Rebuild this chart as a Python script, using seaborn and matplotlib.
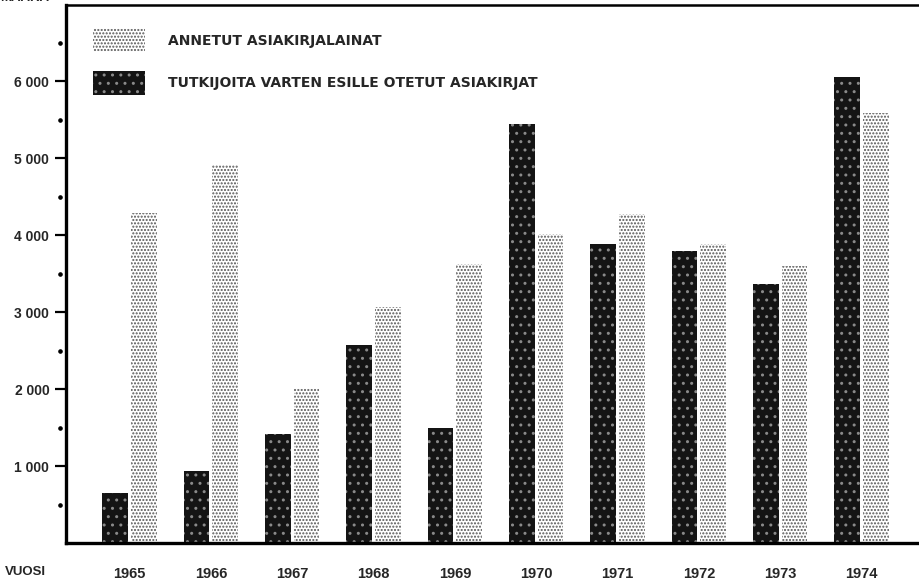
import numpy as np
import pandas as pd
import matplotlib; matplotlib.use("Agg")
import matplotlib.pyplot as plt
import seaborn as sns
from matplotlib.patches import Patch

sns.set_theme(style="white")
plt.rcParams["font.family"] = ["Liberation Sans", "DejaVu Sans"]

# ── data ──────────────────────────────────────────────
YEARS      = ["1965", "1966", "1967", "1968", "1969", "1970", "1971", "1972", "1973", "1974"]
TUTKIJOITA = [650, 940, 1420, 2570, 1500, 5440, 3890, 3800, 3360, 6050]
ANNETUT    = [4290, 4910, 2010, 3070, 3630, 4010, 4270, 3890, 3600, 5590]
LBL_DARK   = "TUTKIJOITA VARTEN ESILLE OTETUT ASIAKIRJAT"
LBL_LIGHT  = "ANNETUT ASIAKIRJALAINAT"
YTICKS     = [1000, 2000, 3000, 4000, 5000, 6000]
YTICKLBL   = ["1 000", "2 000", "3 000", "4 000", "5 000", "6 000"]
YDOTS      = [500, 1500, 2500, 3500, 4500, 5500, 6500]

df = pd.DataFrame({
    "year":   YEARS * 2,
    "value":  TUTKIJOITA + ANNETUT,
    "series": [LBL_DARK] * len(YEARS) + [LBL_LIGHT] * len(YEARS),
})

DARK, LIGHT = "#141414", "#ffffff"

fig = plt.figure(figsize=(9.19, 5.82), dpi=100)
ax = fig.add_axes([66 / 919, 39 / 582, 1 - 66 / 919, 538 / 582])

sns.barplot(data=df, x="year", y="value", hue="series",
            hue_order=[LBL_DARK, LBL_LIGHT],
            palette={LBL_DARK: DARK, LBL_LIGHT: LIGHT},
            width=0.7, gap=0.1, legend=False, ax=ax, errorbar=None)

# halftone-ish textures
for cont, ec, hatch in zip(ax.containers, ["#8a8a8a", "#555555"], ["..", "....."]):
    for bar in cont:
        bar.set_edgecolor(ec)
        bar.set_hatch(hatch)
        bar.set_linewidth(0)

ax.set_xlim(-0.781, 9.707)
ax.set_ylim(0, 6990)

ax.set_yticks(YTICKS)
ax.set_yticklabels(YTICKLBL, fontsize=10, fontweight="bold")
ax.tick_params(axis="y", length=8, width=1.6, color="black", pad=4, left=True)
ax.tick_params(axis="x", length=0, pad=17)
for t in ax.get_xticklabels():
    t.set_fontweight("bold")
    t.set_fontsize(10.5)
ax.set_xlabel("")
ax.set_ylabel("")

# small dots between ticks
ax.plot([-0.007] * len(YDOTS), YDOTS, "o", ms=2.3, color="black",
        transform=ax.get_yaxis_transform(), clip_on=False)

for side in ["left", "bottom"]:
    ax.spines[side].set_linewidth(2.4)
    ax.spines[side].set_color("black")
ax.spines["top"].set_linewidth(1.8)
ax.spines["top"].set_color("black")
ax.spines["right"].set_visible(False)

handles = [Patch(facecolor=LIGHT, edgecolor="#555555", hatch=".....", linewidth=0, label=LBL_LIGHT),
           Patch(facecolor=DARK, edgecolor="#8a8a8a", hatch="..", linewidth=0, label=LBL_DARK)]
leg = ax.legend(handles=handles, loc="upper left", bbox_to_anchor=(0.0317, 0.957),
                frameon=False, prop={"family": "DejaVu Sans", "size": 10, "weight": "bold"},
                handlelength=3.75, handleheight=2.3, handletextpad=1.65,
                labelspacing=1.35, borderaxespad=0, borderpad=0)

fig.text(5 / 919, 10 / 582, "VUOSI", fontsize=9.5, fontweight="bold", va="center")
fig.text(0 / 919, 1 - 4 / 582, "MÄÄRÄ", fontsize=9.5, fontweight="bold", va="bottom")

plt.savefig("out.png", dpi=100)
plt.close()
